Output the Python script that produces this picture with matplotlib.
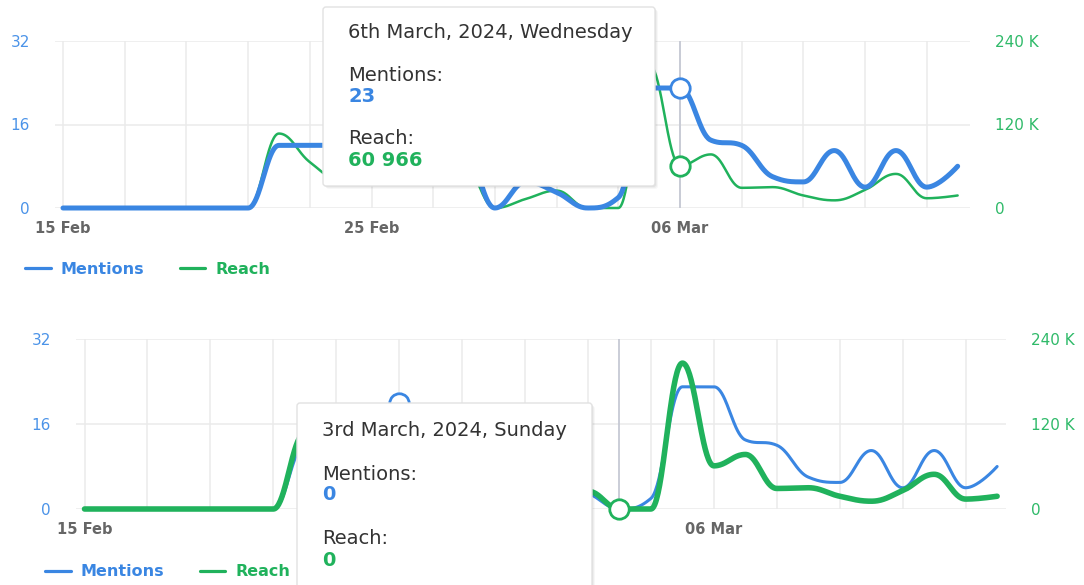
import datetime as dt
import numpy as np
import matplotlib
matplotlib.use("Agg")
import matplotlib.pyplot as plt
from matplotlib.patches import FancyBboxPatch

# ---------------- data ----------------
start_date = dt.date(2024, 2, 15)
n_days = 30
dates = [start_date + dt.timedelta(days=i) for i in range(n_days)]

mentions = [0, 0, 0, 0, 0, 0, 0,          # 15-21 Feb
            12, 12, 12,                   # 22-24 Feb
            20, 17, 15, 13,               # 25-28 Feb
            0,                            # 29 Feb
            5, 3, 0, 2,                   # 1-4 Mar
            23, 23,                       # 5-6 Mar
            13, 12, 6, 5, 11, 4, 11, 4, 8]  # 7-15 Mar

reach = [0, 0, 0, 0, 0, 0, 0,
         107000, 66000, 40000,
         62000, 80000, 70000, 65000,
         0,
         13000, 25000, 0, 0,
         206000, 60966,
         77000, 29000, 30000, 18000, 11000, 26000, 49000, 14000, 18000]

series_names = ["Mentions", "Reach"]
mention_ticks = [0, 16, 32]
reach_ticks = [0, 120000, 240000]
reach_tick_labels = ["0", "120 K", "240 K"]
tick_days = list(range(0, 29, 2))
labelled_days_top = [0, 10, 20]
labelled_days_bottom = [0, 20]   # 25 Feb is hidden under the tooltip

W, H = 1084, 585
BLUE = "#3a86e2"
GREEN = "#20b25c"
BLUE_T = "#4b93e8"
GREEN_T = "#2fba69"

fig = plt.figure(figsize=(W / 100, H / 100), dpi=100)
fig.patch.set_facecolor("white")


def hc_spline(xs, ys, n=40):
    """Highcharts-style spline (smoothing 1.5 with extremum clamping)."""
    xs = np.asarray(xs, float)
    ys = np.asarray(ys, float)
    N = len(xs)
    sm, den = 1.5, 2.5
    lc = [(xs[i], ys[i]) for i in range(N)]
    rc = [(xs[i], ys[i]) for i in range(N)]
    for i in range(1, N - 1):
        px, py = xs[i], ys[i]
        lx, ly = xs[i - 1], ys[i - 1]
        nx, ny = xs[i + 1], ys[i + 1]
        lcx = (sm * px + lx) / den
        lcy = (sm * py + ly) / den
        rcx = (sm * px + nx) / den
        rcy = (sm * py + ny) / den
        corr = 0.0
        if rcx != lcx:
            corr = ((rcy - lcy) * (rcx - px)) / (rcx - lcx) + py - rcy
        lcy += corr
        rcy += corr
        if lcy > ly and lcy > py:
            lcy = max(ly, py)
            rcy = 2 * py - lcy
        elif lcy < ly and lcy < py:
            lcy = min(ly, py)
            rcy = 2 * py - lcy
        if rcy > ny and rcy > py:
            rcy = max(ny, py)
            lcy = 2 * py - rcy
        elif rcy < ny and rcy < py:
            rcy = min(ny, py)
            lcy = 2 * py - rcy
        lc[i] = (lcx, lcy)
        rc[i] = (rcx, rcy)
    t = np.linspace(0, 1, n)[:, None]
    out = [np.array([[xs[0], ys[0]]])]
    for i in range(1, N):
        p0 = np.array([xs[i - 1], ys[i - 1]])
        p1 = np.array(rc[i - 1])
        p2 = np.array(lc[i])
        p3 = np.array([xs[i], ys[i]])
        b = ((1 - t) ** 3) * p0 + 3 * ((1 - t) ** 2) * t * p1 + 3 * (1 - t) * t ** 2 * p2 + t ** 3 * p3
        out.append(b[1:])
    pts = np.vstack(out)
    return pts[:, 0], pts[:, 1]


def ordinal(d):
    if 10 <= d % 100 <= 20:
        suf = "th"
    else:
        suf = {1: "st", 2: "nd", 3: "rd"}.get(d % 10, "th")
    return f"{d}{suf}"


def fmt_num(v):
    return f"{int(round(v)):,}".replace(",", " ")


def px_trans():
    return fig.dpi_scale_trans


def P(x, y):
    return (x / 100.0, (H - y) / 100.0)


def panel(left, top, right, bottom, x0, day_px, front, lw_m, lw_r, hover,
          extra_marks, labelled_days, legend_xy, tip_box, tip_text_x, tip_rows):
    rect = [left / W, 1 - bottom / H, (right - left) / W, (bottom - top) / H]
    back = fig.add_axes(rect)
    fr = back.twinx()
    if front == "m":
        ax_m, ax_r = fr, back
        ax_r.yaxis.tick_right()
        ax_m.yaxis.tick_left()
    else:
        ax_m, ax_r = back, fr
    xs = np.arange(n_days)
    back.set_xlim((left - x0) / day_px, (right - x0) / day_px)
    ax_m.set_ylim(0, 32)
    ax_r.set_ylim(0, 240000)
    ax_m.set_yticks(mention_ticks)
    ax_m.set_yticklabels([str(v) for v in mention_ticks])
    ax_r.set_yticks(reach_ticks)
    ax_r.set_yticklabels(reach_tick_labels)
    for a in (back, fr):
        for s in a.spines.values():
            s.set_visible(False)
    back.set_xticks(tick_days)
    back.set_xticklabels([dates[d].strftime("%d %b") if d in labelled_days else "" for d in tick_days])
    back.tick_params(axis="x", length=0, pad=9, labelsize=10.5, labelcolor="#666666")
    for lab in back.get_xticklabels():
        lab.set_fontweight("bold")
    ax_m.tick_params(axis="y", length=0, pad=18, labelsize=11, labelcolor=BLUE_T)
    ax_r.tick_params(axis="y", length=0, pad=18, labelsize=11, labelcolor=GREEN_T)
    back.set_axisbelow(True)
    back.grid(True, color="#ebebeb", lw=1.1)
    back.axvline(hover, color="#c6c9d4", lw=1.3, zorder=1)

    sx, sy = hc_spline(xs, mentions)
    lm, = ax_m.plot(sx, sy, color=BLUE, lw=lw_m, solid_capstyle="round",
                    solid_joinstyle="round", clip_on=False, zorder=2)
    sx, sy = hc_spline(xs, reach)
    lr, = ax_r.plot(sx, sy, color=GREEN, lw=lw_r, solid_capstyle="round",
                    solid_joinstyle="round", clip_on=False, zorder=2)

    # hover markers
    if front == "m":
        ax_m.plot([hover], [mentions[hover]], "o", ms=14, mfc="white", mec=BLUE, mew=2, zorder=5, clip_on=False)
        ax_r.plot([hover], [reach[hover]], "o", ms=14, mfc="white", mec=GREEN, mew=2, zorder=5, clip_on=False)
    else:
        ax_r.plot([hover], [reach[hover]], "o", ms=14, mfc="white", mec=GREEN, mew=2, zorder=5, clip_on=False)
    for key, d in extra_marks:
        if key == "m":
            ax_m.plot([d], [mentions[d]], "o", ms=14, mfc="white", mec=BLUE, mew=2, zorder=5, clip_on=False)
        else:
            ax_r.plot([d], [reach[d]], "o", ms=14, mfc="white", mec=GREEN, mew=2, zorder=5, clip_on=False)

    # legend
    leg = fig.legend([lm, lr], series_names, loc="center left",
                     bbox_to_anchor=P(*legend_xy), bbox_transform=px_trans(),
                     frameon=False, ncol=2, prop={"size": 11.5, "weight": "bold"},
                     handlelength=1.6, handletextpad=0.65, columnspacing=2.2,
                     borderpad=0, borderaxespad=0)
    for txt, c in zip(leg.get_texts(), [BLUE, GREEN]):
        txt.set_color(c)
    for ln in leg.get_lines():
        ln.set_linewidth(2.3)

    # tooltip
    x1, y1, x2, y2 = tip_box
    for k, a in [(3, 0.03), (2, 0.04), (1, 0.05)]:
        sh = FancyBboxPatch(P(x1 + k, y2 + k), (x2 - x1) / 100, (y2 - y1) / 100,
                            boxstyle="round,pad=0,rounding_size=0.03",
                            transform=px_trans(), facecolor="black", edgecolor="none",
                            alpha=a, zorder=9)
        fig.add_artist(sh)
    box = FancyBboxPatch(P(x1, y2), (x2 - x1) / 100, (y2 - y1) / 100,
                         boxstyle="round,pad=0,rounding_size=0.03",
                         transform=px_trans(), facecolor="white", edgecolor="#e2e2e2",
                         lw=1.0, zorder=10)
    fig.add_artist(box)
    d = dates[hover]
    title = f"{ordinal(d.day)} {d.strftime('%B')}, {d.year}, {d.strftime('%A')}"
    rows = [(title, "#333333", "normal"),
            (series_names[0] + ":", "#333333", "normal"),
            (fmt_num(mentions[hover]), BLUE, "bold"),
            (series_names[1] + ":", "#333333", "normal"),
            (fmt_num(reach[hover]), GREEN, "bold")]
    for (s, c, w), yy in zip(rows, tip_rows):
        fig.text(*P(tip_text_x, yy), s, transform=px_trans(), fontsize=14, color=c,
                 fontweight=w, va="center", ha="left", zorder=11)


panel(55, 41, 970, 208, 63, 30.85, "m", 3.6, 1.8, 20, [], labelled_days_top,
      (25, 269), (323, 7, 655, 186), 348, [33, 75, 96, 139, 160])
panel(76, 339, 1006, 509, 84.5, 31.47, "r", 2.2, 4.0, 17, [("m", 10)], labelled_days_bottom,
      (45, 572), (297, 403, 592, 615), 322, [431, 474, 495, 539, 560])

fig.savefig("out.png", dpi=100, facecolor="white")
